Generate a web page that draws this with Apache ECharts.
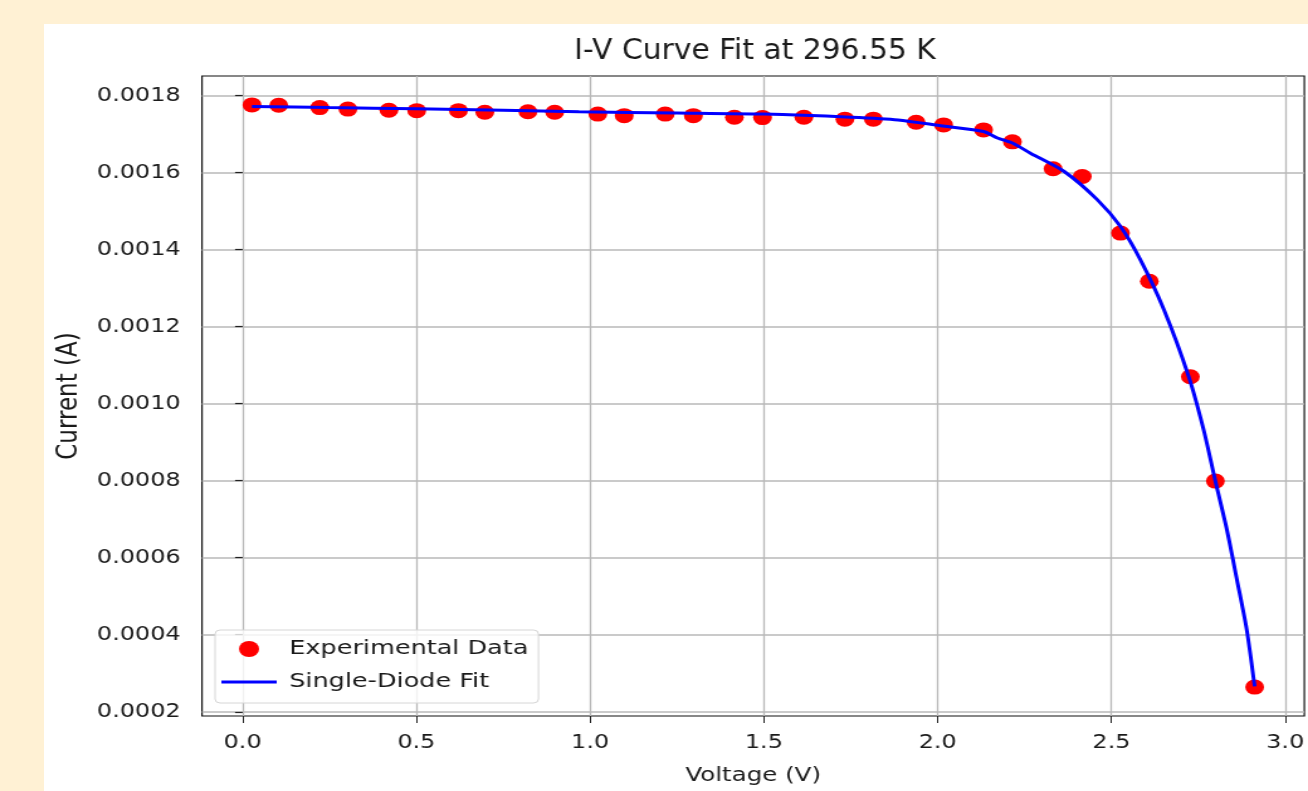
<!DOCTYPE html>
<html>
<head>
<meta charset="utf-8">
<title>I-V Curve Fit</title>
<script src="https://cdn.jsdelivr.net/npm/echarts@6/dist/echarts.min.js"></script>
<style>
  html, body { margin: 0; padding: 0; width: 1308px; height: 791px; overflow: hidden; background: #fff1d4; }
  #panel { position: absolute; left: 44px; top: 24px; right: 0; bottom: 0; background: #ffffff; }
  /* the reference is stretched sideways, so the chart is drawn narrow and scaled */
  #chart { position: absolute; left: 0; top: 0; width: 1040px; height: 791px; transform: scaleX(1.2577); transform-origin: 0 0; }
</style>
</head>
<body>
<div id="panel"></div>
<div id="chart"></div>
<script>
// measured points
var voltage = [0.027, 0.104, 0.222, 0.303, 0.421, 0.501, 0.621, 0.697, 0.821, 0.898,
  1.022, 1.098, 1.216, 1.297, 1.415, 1.496, 1.615, 1.733, 1.815, 1.938,
  2.017, 2.132, 2.215, 2.332, 2.416, 2.526, 2.609, 2.727, 2.799, 2.912];
var current = [0.001776, 0.001775, 0.001769, 0.001765, 0.001762, 0.001761, 0.001761, 0.001757, 0.001758, 0.001757,
  0.001752, 0.001748, 0.001752, 0.001748, 0.001744, 0.001743, 0.001744, 0.001739, 0.001739, 0.001731,
  0.001724, 0.001711, 0.001680, 0.001610, 0.001590, 0.001443, 0.001318, 0.001070, 0.000799, 0.000264];

// fitted curve
var fitVoltage = [0.027, 0.25, 0.5, 0.75, 0.968, 1.25, 1.499, 1.75, 1.886, 2.015,
  2.132, 2.172, 2.215, 2.268, 2.364, 2.459, 2.526, 2.583, 2.651, 2.722,
  2.765, 2.799, 2.832, 2.861, 2.889, 2.912];
var fitCurrent = [0.001772, 0.001769, 0.001766, 0.001762, 0.001758, 0.001755, 0.001752, 0.001744, 0.001737, 0.001721,
  0.001707, 0.001690, 0.001677, 0.001650, 0.001603, 0.001530, 0.001460, 0.001374, 0.001244, 0.001071,
  0.000933, 0.000799, 0.000673, 0.000543, 0.000414, 0.000266];

var xTicks = [0, 0.5, 1.0, 1.5, 2.0, 2.5, 3.0];
var yTicks = [0.0002, 0.0004, 0.0006, 0.0008, 0.0010, 0.0012, 0.0014, 0.0016, 0.0018];

var pts = voltage.map(function (v, i) { return [v, current[i]]; });
var fit = fitVoltage.map(function (v, i) { return [v, fitCurrent[i]]; });

var font = 'DejaVu Sans';
var chart = echarts.init(document.getElementById('chart'), null, { renderer: 'canvas' });

chart.setOption({
  animation: false,
  backgroundColor: 'transparent',
  // title as graphic text so it can be un-stretched a little
  graphic: [{
    type: 'text',
    x: 600.3, y: 52,
    scaleX: 0.86,
    style: {
      text: 'I-V Curve Fit at 296.55 K',
      fontFamily: font, fontSize: 27.5,
      align: 'center', verticalAlign: 'middle',
      fill: '#1a1a1a'
    }
  }],
  grid: {
    left: 160.6, top: 76, width: 879.1, height: 641,
    show: true, borderColor: '#111', borderWidth: 1.2, backgroundColor: '#ffffff'
  },
  legend: {
    left: 171, top: 630,
    orient: 'vertical',
    padding: [9, 8, 11, 5],
    itemWidth: 44, itemHeight: 16, itemGap: 13,
    backgroundColor: 'rgba(255,255,255,0.8)',
    borderColor: '#d6d6d6', borderWidth: 1, borderRadius: 4,
    textStyle: { fontFamily: font, fontSize: 20.3, color: '#1a1a1a', padding: [0, 0, 0, 5] },
    data: [
      { name: 'Experimental Data', icon: 'circle' },
      { name: 'Single-Diode Fit', icon: 'path://M0,0H44V3H0Z' }
    ]
  },
  xAxis: {
    type: 'value',
    min: -0.1168, max: 3.055,
    name: 'Voltage (V)',
    nameLocation: 'middle',
    nameGap: 50,
    nameTextStyle: { fontFamily: font, fontSize: 19.5, color: '#1a1a1a' },
    axisLine: { show: false },
    axisTick: { show: true, length: 7, lineStyle: { color: '#222', width: 1 }, customValues: xTicks },
    axisLabel: {
      fontFamily: font, fontSize: 19, color: '#1a1a1a', margin: 18,
      customValues: xTicks,
      formatter: function (v) { return v.toFixed(1); }
    },
    splitLine: { show: true, lineStyle: { color: '#b8b8b8', width: 1.3 } }
  },
  yAxis: {
    type: 'value',
    min: 0.000189, max: 0.001851,
    name: 'Current (A)',
    nameLocation: 'middle',
    nameGap: 92,
    nameTextStyle: { fontFamily: font, fontSize: 23, color: '#1a1a1a' },
    axisLine: { show: false },
    axisTick: { show: true, length: 6, lineStyle: { color: '#222', width: 1.2 }, customValues: yTicks },
    axisLabel: {
      fontFamily: font, fontSize: 19, color: '#1a1a1a', margin: 17,
      customValues: yTicks,
      formatter: function (v) { return v.toFixed(4); }
    },
    splitLine: { show: true, lineStyle: { color: '#b8b8b8', width: 1.6 } }
  },
  series: [
    {
      name: 'Experimental Data',
      type: 'scatter',
      data: pts,
      symbol: 'circle',
      symbolSize: 15,
      itemStyle: { color: '#ff0000', opacity: 1 },
      z: 2
    },
    {
      name: 'Single-Diode Fit',
      type: 'line',
      data: fit,
      showSymbol: false,
      symbol: 'none',
      smooth: 0.25,
      lineStyle: { color: '#0000ff', width: 3 },
      itemStyle: { color: '#0000ff' },
      z: 3
    }
  ]
});
</script>
</body>
</html>
